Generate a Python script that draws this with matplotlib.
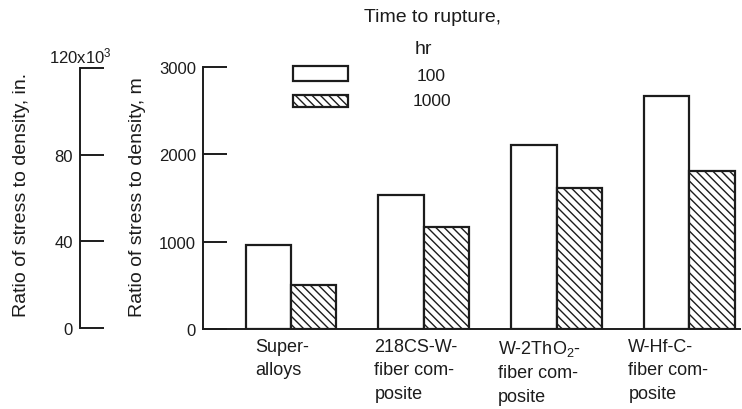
import numpy as np
import matplotlib
matplotlib.use('Agg')
import matplotlib.pyplot as plt
from matplotlib.patches import Rectangle

plt.rcParams['font.family'] = ['Liberation Sans', 'DejaVu Sans']
plt.rcParams['mathtext.fontset'] = 'custom'
plt.rcParams['mathtext.rm'] = 'Liberation Sans'
plt.rcParams['mathtext.it'] = 'Liberation Sans'
plt.rcParams['hatch.linewidth'] = 1.0

# data
materials = ['Super-\nalloys', '218CS-W-\nfiber com-\nposite',
             'W-2ThO$_2$-\nfiber com-\nposite', 'W-Hf-C-\nfiber com-\nposite']
hr100 = [960, 1530, 2110, 2670]
hr1000 = [505, 1170, 1615, 1805]
label_shift = [-0.27, -0.37, -0.44, -0.46]   # left edge of each category label

ink = '#1c1c1c'
W, H = 742, 410

fig = plt.figure(figsize=(W / 100, H / 100), dpi=100)

# main axis, metres
ax = fig.add_axes([203 / W, 80 / H, 537 / W, 262 / H])
x = np.arange(len(materials))
w = 0.34
ax.bar(x - w / 2, hr100, w, facecolor='white', edgecolor=ink, linewidth=1.6)
ax.bar(x + w / 2, hr1000, w, facecolor='white', edgecolor=ink, linewidth=1.6, hatch='\\\\\\\\')
ax.set_xlim(-0.66, 3.38)
ax.set_ylim(0, 3000)
ax.set_yticks([0, 1000, 2000, 3000])
ax.set_xticks([])
for s in ['top', 'right']:
    ax.spines[s].set_visible(False)
for s in ['left', 'bottom']:
    ax.spines[s].set_linewidth(1.4)
    ax.spines[s].set_color(ink)
ax.tick_params(axis='y', direction='in', length=17, width=1.4, color=ink,
               labelsize=12, pad=5, labelcolor=ink)
for i, lab in enumerate(materials):
    ax.text(i + label_shift[i], -100, lab, ha='left', va='top', fontsize=13,
            color=ink, linespacing=1.5)

# secondary axis, inches
ax2 = fig.add_axes([80 / W, 81 / H, 0.05, 260 / H])
ax2.patch.set_visible(False)
ax2.set_ylim(0, 120)
ax2.set_yticks([0, 40, 80, 120])
ax2.set_yticklabels(['0', '40', '80', ''])
ax2.set_xticks([])
for s in ['top', 'right', 'bottom']:
    ax2.spines[s].set_visible(False)
ax2.spines['left'].set_linewidth(1.4)
ax2.spines['left'].set_color(ink)
ax2.tick_params(axis='y', direction='in', length=17, width=1.4, color=ink,
                labelsize=12, pad=5, labelcolor=ink)
ax2.text(0, 121, r'120x10$^3$', ha='center', va='bottom', fontsize=12, color=ink)

fig.text(22 / W, 1 - 195 / H, 'Ratio of stress to density, in.', rotation=90,
         ha='center', va='center', fontsize=14, color=ink)
fig.text(137 / W, 1 - 197 / H, 'Ratio of stress to density, m', rotation=90,
         ha='center', va='center', fontsize=14, color=ink)

# legend
fig.add_artist(Rectangle((293 / W, 1 - 82 / H), 55 / W, 15 / H, transform=fig.transFigure,
                         facecolor='white', edgecolor=ink, linewidth=1.6))
fig.add_artist(Rectangle((293 / W, 1 - 108 / H), 55 / W, 12 / H, transform=fig.transFigure,
                         facecolor='white', edgecolor=ink, linewidth=1.6, hatch='\\\\\\\\'))
fig.text(432 / W, 1 - 17 / H, 'Time to rupture,', ha='center', va='center', fontsize=14, color=ink)
fig.text(423 / W, 1 - 49 / H, 'hr', ha='center', va='center', fontsize=14, color=ink)
fig.text(431 / W, 1 - 77 / H, '100', ha='center', va='center', fontsize=12.5, color=ink)
fig.text(432 / W, 1 - 101 / H, '1000', ha='center', va='center', fontsize=12.5, color=ink)

fig.savefig('out.png', dpi=100)
